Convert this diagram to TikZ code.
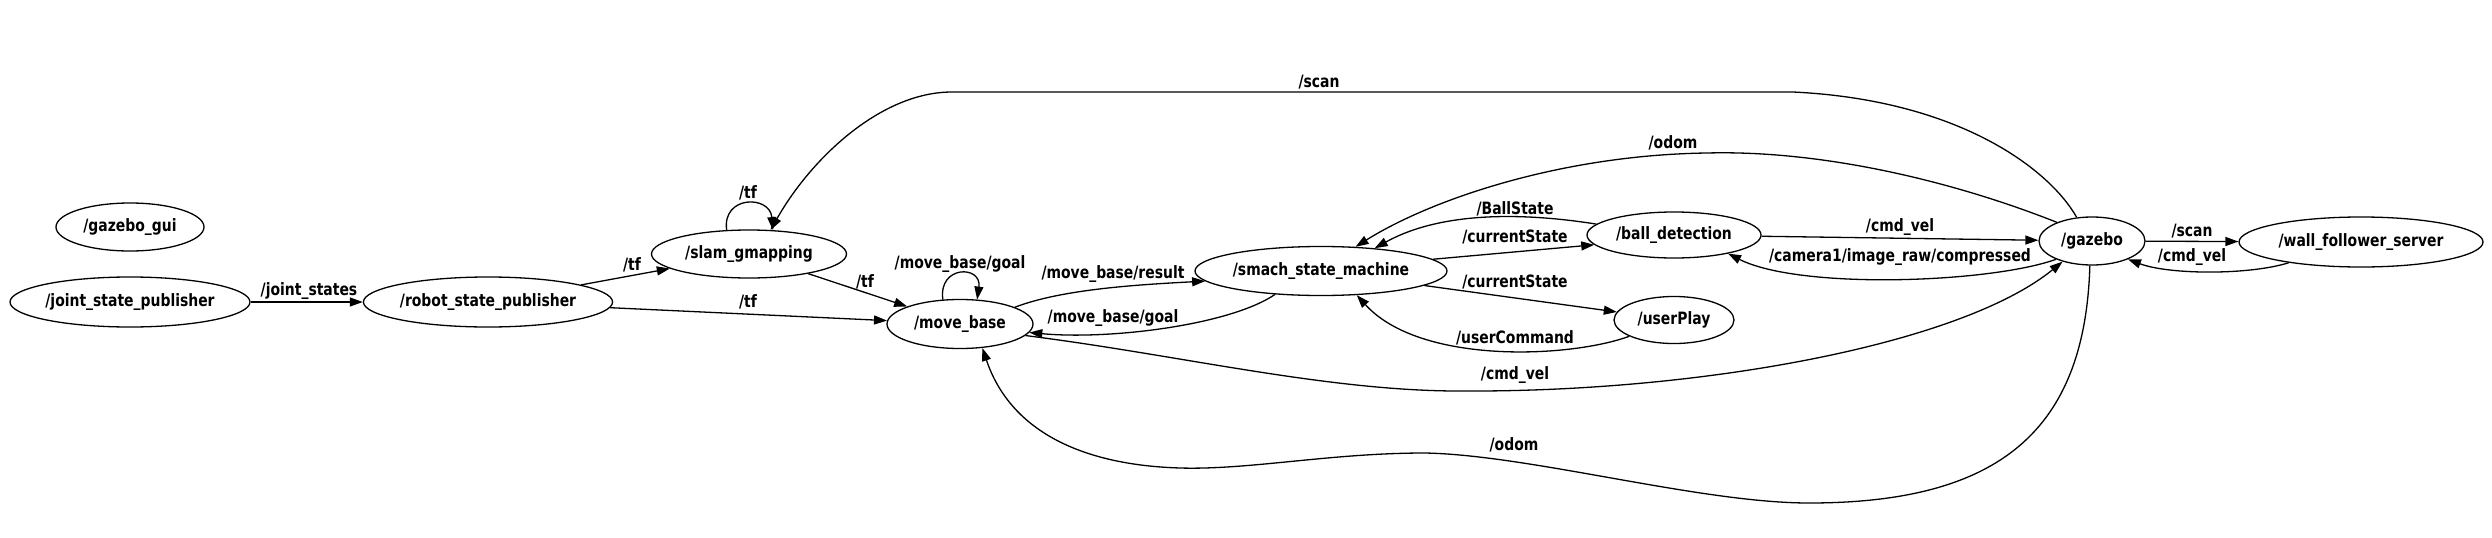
\documentclass[tikz,border=0pt]{standalone}
\usepackage{fontspec}
\setmainfont{DejaVu Sans}[FakeStretch=0.82]
\usetikzlibrary{arrows.meta, shapes.geometric}

\begin{document}
\begin{tikzpicture}[x=1pt, y=-1pt,
    rosnode/.style={ellipse, draw, line width=1.3pt, inner sep=0pt, font=\fontsize{17}{20}\selectfont\bfseries},
    lbl/.style={inner sep=0pt, font=\fontsize{17}{20}\selectfont\bfseries},
    arr/.style={-{Triangle[length=13pt, width=9pt]}, line width=1.3pt}
]
\useasboundingbox (0,0) rectangle (2492,538);

% ── ROS nodes ──
\node[rosnode, minimum width=148, minimum height=48] (gazebogui) at (130,227) {/gazebo\_gui};
\node[rosnode, minimum width=240, minimum height=50] (jsp) at (130,302) {/joint\_state\_publisher};
\node[rosnode, minimum width=246, minimum height=50] (rsp) at (488,302) {/robot\_state\_publisher};
\node[rosnode, minimum width=195, minimum height=48] (slam) at (749,254) {/slam\_gmapping};
\node[rosnode, minimum width=146, minimum height=49] (mb) at (960,324) {/move\_base};
\node[rosnode, minimum width=252, minimum height=49] (smach) at (1321,271) {/smach\_state\_machine};
\node[rosnode, minimum width=174, minimum height=46] (ball) at (1674,235) {/ball\_detection};
\node[rosnode, minimum width=120, minimum height=47] (play) at (1674,320) {/userPlay};
\node[rosnode, minimum width=106, minimum height=48] (gazebo) at (2092,241) {/gazebo};
\node[rosnode, minimum width=244, minimum height=50] (wfs) at (2361,242) {/wall\_follower\_server};

% ── Left part ──
\draw[arr] (jsp) -- (rsp);
\draw[arr] (rsp) -- (slam);
\draw[arr] (rsp) -- (mb);
\draw[arr] (slam) -- (mb);
\draw[arr] (slam.133) .. controls (722,195) and (770,195) .. (slam.45);
\draw[arr] (mb.125) .. controls (938,265) and (982,265) .. (mb.55);

\node[lbl] (l-js) at (309,291) {/joint\_states};
\node[lbl] (l-tf1) at (632,265) {/tf};
\node[lbl] (l-tf2) at (748,302) {/tf};
\node[lbl] (l-tf3) at (865,282) {/tf};
\node[lbl] (l-tf4) at (748,193) {/tf};
\node[lbl] (l-goal1) at (960,264) {/move\_base/goal};

% ── Middle part ──
\draw[arr] (mb.17) .. controls (1060,290) and (1130,285) .. (smach.185);
\draw[arr] (smach.207) .. controls (1230,325) and (1110,340) .. (mb.353);
\draw[arr] (smach.6) -- (ball.187);
\draw[arr] (ball.172) .. controls (1520,212) and (1440,212) .. (smach.23);
\draw[arr] (smach.352) -- (play.172);
\draw[arr] (play.200) .. controls (1570,358) and (1420,365) .. (smach.326);

\node[lbl] (l-result) at (1113,274) {/move\_base/result};
\node[lbl] (l-goal2) at (1113,318) {/move\_base/goal};
\node[lbl] (l-ball) at (1515,209) {/BallState};
\node[lbl] (l-cur1) at (1515,237) {/currentState};
\node[lbl] (l-cur2) at (1515,282) {/currentState};
\node[lbl] (l-user) at (1515,338) {/userCommand};

% ── Right part ──
\draw[arr] (ball) -- (gazebo);
\draw[arr] (gazebo.207) .. controls (1990,283) and (1800,290) .. (ball.341);
\draw[arr] (gazebo) -- (wfs);
\draw[arr] (wfs.196) .. controls (2250,275) and (2170,275) .. (gazebo.333);

\node[lbl] (l-vel1) at (1900,227) {/cmd\_vel};
\node[lbl] (l-cam) at (1900,257) {/camera1/image\_raw/compressed};
\node[lbl] (l-scan1) at (2192,231) {/scan};
\node[lbl] (l-vel2) at (2192,257) {/cmd\_vel};

% ── Long edges ──
\draw[arr] (mb.350) .. controls (1180,355) and (1330,392) .. (1465,391)
    .. controls (1700,392) and (1960,345) .. (gazebo.215);
\draw[arr] (gazebo.265) .. controls (2085,430) and (2000,503) .. (1809,503)
    .. controls (1700,503) and (1530,455) .. (1425,453)
    .. controls (1330,453) and (1250,470) .. (1180,468)
    .. controls (1080,465) and (1010,430) .. (mb.313);
\draw[arr] (gazebo.123) .. controls (2050,170) and (1960,100) .. (1793,92)
    -- (952,92) .. controls (880,92) and (810,160) .. (slam.48);
\draw[arr] (gazebo.152) .. controls (1950,180) and (1820,150) .. (1707,153)
    .. controls (1560,155) and (1430,200) .. (smach.35);

\node[lbl] (l-vel3) at (1515,375) {/cmd\_vel};
\node[lbl] (l-odom1) at (1514,445) {/odom};
\node[lbl] (l-scan2) at (1319,82) {/scan};
\node[lbl] (l-odom2) at (1673,143) {/odom};

\end{tikzpicture}
\end{document}
